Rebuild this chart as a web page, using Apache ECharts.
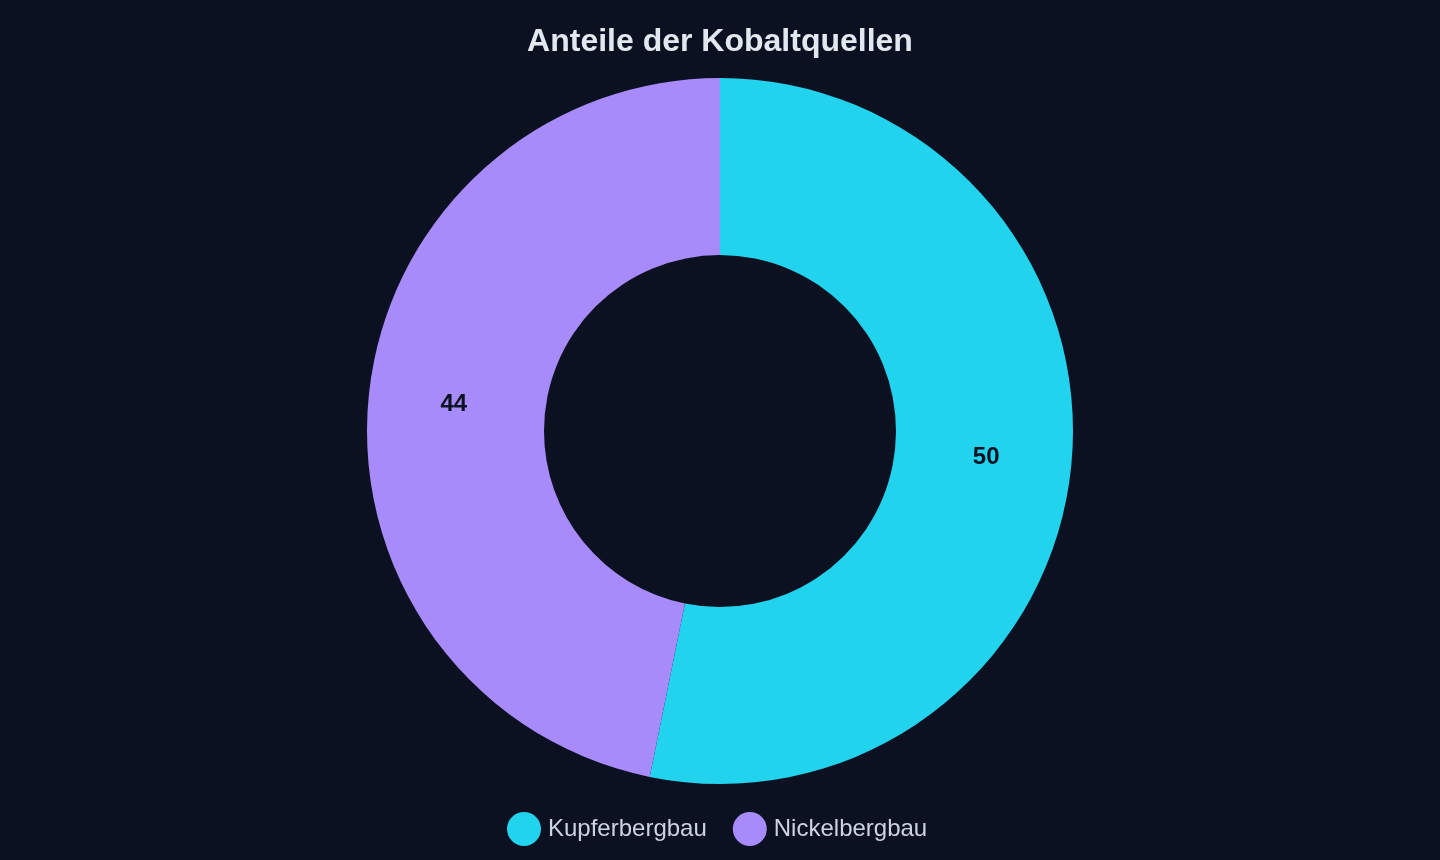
<!DOCTYPE html>
<html>
<head>
<meta charset="utf-8">
<style>
  html, body { margin: 0; padding: 0; background: #0b1120; }
  #chart { width: 1440px; height: 860px; }
</style>
<script src="https://cdn.jsdelivr.net/npm/echarts@6/dist/echarts.min.js"></script>
</head>
<body>
<div id="chart"></div>
<script>
const title = 'Anteile der Kobaltquellen';
const categories = ['Kupferbergbau', 'Nickelbergbau'];
const values = [50, 44];
const colors = ['#22d3ee', '#a78bfa'];

const chart = echarts.init(document.getElementById('chart'));

const data = categories.map((name, i) => ({
  name: name,
  value: values[i],
  itemStyle: { color: colors[i] }
}));

const option = {
  backgroundColor: '#0b1120',
  title: {
    text: title,
    left: 'center',
    top: 21,
    textStyle: {
      fontFamily: 'Liberation Sans, Arial, sans-serif',
      fontSize: 32,
      fontWeight: 'bold',
      color: '#e2e8f0'
    }
  },
  legend: {
    bottom: 9,
    left: 502,
    icon: 'circle',
    itemWidth: 34,
    itemHeight: 34,
    itemGap: 26,
    textStyle: {
      fontFamily: 'Liberation Sans, Arial, sans-serif',
      fontSize: 24,
      color: '#cbd5e1',
      padding: [0, 0, 0, 2]
    },
    data: categories
  },
  series: [
    {
      name: title,
      type: 'pie',
      center: ['50%', 431],
      radius: [176, 353],
      startAngle: 90,
      clockwise: true,
      label: {
        show: true,
        position: 'inside',
        formatter: '{c}',
        fontFamily: 'Liberation Sans, Arial, sans-serif',
        fontSize: 24,
        fontWeight: 'bold',
        color: '#0b1120'
      },
      labelLine: { show: false },
      itemStyle: { borderWidth: 0 },
      emphasis: { scale: false },
      data: data
    }
  ]
};

chart.setOption(option);
window.addEventListener('resize', function () {
  chart.resize();
});
</script>
</body>
</html>
